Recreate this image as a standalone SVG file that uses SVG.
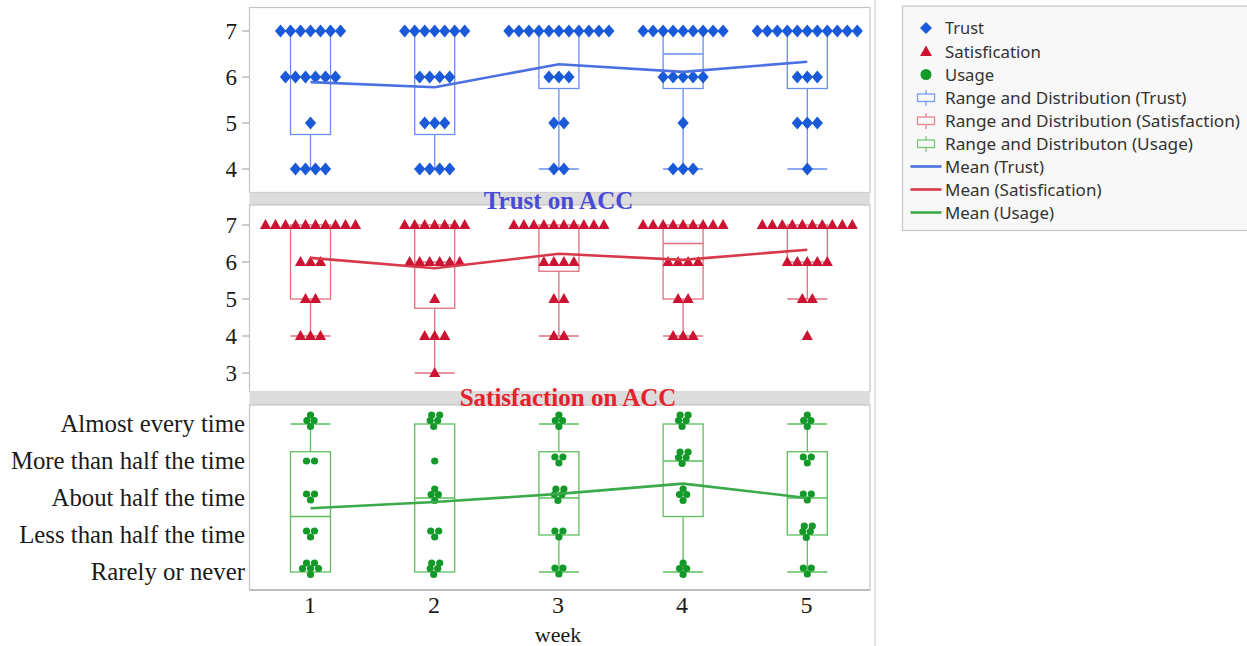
<svg xmlns="http://www.w3.org/2000/svg" xmlns:xlink="http://www.w3.org/1999/xlink" width="1247" height="646" viewBox="0 0 1247 646">
<style>
.frame{fill:#ffffff;stroke:#c4c4c4;stroke-width:1.2}
.bar{fill:#dcdcdc}
.tick{stroke:#9a9a9a;stroke-width:1}
.num{font-family:"Liberation Serif","Times New Roman",serif;font-size:23px;fill:#1a1a1a}
.cat{font-family:"Liberation Serif","Times New Roman",serif;font-size:24.8px;fill:#1a1a1a;text-anchor:end}
.title{font-family:"Liberation Serif","Times New Roman",serif;font-size:25px;font-weight:bold;text-anchor:middle}
.bt{fill:none;stroke:#6a8ef0;stroke-width:1.3}
.bs{fill:none;stroke:#e0707e;stroke-width:1.3}
.bu{fill:none;stroke:#5cbf5c;stroke-width:1.3}
.mt{fill:none;stroke:#4a70e2;stroke-width:2.6;stroke-linejoin:round}
.ms{fill:none;stroke:#d8384a;stroke-width:2.6;stroke-linejoin:round}
.mu{fill:none;stroke:#3aaa4a;stroke-width:2.6;stroke-linejoin:round}
.dia{fill:#1a5ad8}
.tri{fill:#cc1432}
.dot{fill:#15982a}
.leg{font-family:"Noto Sans","Open Sans","Liberation Sans",sans-serif;font-size:16px;fill:#333333}
</style>
<defs>
<path id="d" class="dia" d="M0,-6.5 L5.6,0 L0,6.5 L-5.6,0Z"/>
<path id="t" class="tri" d="M0,-6 L5.6,4 L-5.6,4Z"/>
<g id="p1" class="dot"><circle r="3.6"/></g>
<g id="p2" class="dot"><circle cx="-4" r="3.6"/><circle cx="4" r="3.6"/></g>
<g id="p3" class="dot"><circle cx="-4" cy="-4" r="3.6"/><circle cx="4" cy="-4" r="3.6"/><circle cx="0" cy="2" r="3.6"/></g>
<g id="p4" class="dot"><circle cx="0" cy="-9" r="3.6"/><circle cx="-3.6" cy="-3.5" r="3.6"/><circle cx="3.6" cy="-3.5" r="3.6"/><circle cx="0" cy="2.5" r="3.6"/></g>
<g id="p5" class="dot"><circle cx="-3" cy="-9" r="3.6"/><circle cx="5" cy="-9" r="3.6"/><circle cx="-4.5" cy="-3.5" r="3.6"/><circle cx="3" cy="-3.5" r="3.6"/><circle cx="-1" cy="2.5" r="3.6"/></g>
<g id="p6" class="dot"><circle cx="-4" cy="-9" r="3.6"/><circle cx="4" cy="-9" r="3.6"/><circle cx="-8" cy="-3.5" r="3.6"/><circle cx="0" cy="-3.5" r="3.6"/><circle cx="8" cy="-3.5" r="3.6"/><circle cx="0" cy="2.5" r="3.6"/></g>
</defs>
<rect x="0" y="0" width="1247" height="646" fill="#ffffff"/>
<line x1="875" y1="0" x2="875" y2="646" stroke="#cfcfcf" stroke-width="1.2"/>

<!-- ===== Trust panel ===== -->
<g id="panel-trust">
<rect class="frame" x="249.5" y="7.5" width="620.5" height="185"/>
<g class="tick"><line x1="242" y1="31" x2="249" y2="31"/><line x1="242" y1="77" x2="249" y2="77"/><line x1="242" y1="123" x2="249" y2="123"/><line x1="242" y1="169" x2="249" y2="169"/></g>
<g class="num" text-anchor="end"><text x="237" y="38.5">7</text><text x="237" y="84.5">6</text><text x="237" y="130.5">5</text><text x="237" y="176.5">4</text></g>
<g id="trust-boxes">
<rect class="bt" x="290.5" y="31" width="40" height="103.5"/><line class="bt" x1="290.5" y1="77" x2="330.5" y2="77"/><line class="bt" x1="310.5" y1="134.5" x2="310.5" y2="169"/><line class="bt" x1="290.5" y1="169" x2="330.5" y2="169"/>
<rect class="bt" x="414.7" y="31" width="40" height="103.5"/><line class="bt" x1="414.7" y1="77" x2="454.7" y2="77"/><line class="bt" x1="434.7" y1="134.5" x2="434.7" y2="169"/><line class="bt" x1="414.7" y1="169" x2="454.7" y2="169"/>
<rect class="bt" x="538.9" y="31" width="40" height="57.5"/><line class="bt" x1="558.9" y1="88.5" x2="558.9" y2="169"/><line class="bt" x1="538.9" y1="169" x2="578.9" y2="169"/>
<rect class="bt" x="663.1" y="31" width="40" height="57.5"/><line class="bt" x1="663.1" y1="54" x2="703.1" y2="54"/><line class="bt" x1="683.1" y1="88.5" x2="683.1" y2="169"/><line class="bt" x1="663.1" y1="169" x2="703.1" y2="169"/>
<rect class="bt" x="787.3" y="31" width="40" height="57.5"/><line class="bt" x1="807.3" y1="88.5" x2="807.3" y2="169"/><line class="bt" x1="787.3" y1="169" x2="827.3" y2="169"/>
</g>
<g id="trust-points">
<g transform="translate(310.5,0)">
<use href="#d" x="-30" y="31"/><use href="#d" x="-20" y="31"/><use href="#d" x="-10" y="31"/><use href="#d" x="0" y="31"/><use href="#d" x="10" y="31"/><use href="#d" x="20" y="31"/><use href="#d" x="30" y="31"/>
<use href="#d" x="-25" y="77"/><use href="#d" x="-15" y="77"/><use href="#d" x="-5" y="77"/><use href="#d" x="5" y="77"/><use href="#d" x="15" y="77"/><use href="#d" x="25" y="77"/>
<use href="#d" x="0" y="123"/>
<use href="#d" x="-15" y="169"/><use href="#d" x="-5" y="169"/><use href="#d" x="5" y="169"/><use href="#d" x="15" y="169"/>
</g>
<g transform="translate(434.7,0)">
<use href="#d" x="-30" y="31"/><use href="#d" x="-20" y="31"/><use href="#d" x="-10" y="31"/><use href="#d" x="0" y="31"/><use href="#d" x="10" y="31"/><use href="#d" x="20" y="31"/><use href="#d" x="30" y="31"/>
<use href="#d" x="-15" y="77"/><use href="#d" x="-5" y="77"/><use href="#d" x="5" y="77"/><use href="#d" x="15" y="77"/>
<use href="#d" x="-10" y="123"/><use href="#d" x="0" y="123"/><use href="#d" x="10" y="123"/>
<use href="#d" x="-15" y="169"/><use href="#d" x="-5" y="169"/><use href="#d" x="5" y="169"/><use href="#d" x="15" y="169"/>
</g>
<g transform="translate(558.9,0)">
<use href="#d" x="-50" y="31"/><use href="#d" x="-40" y="31"/><use href="#d" x="-30" y="31"/><use href="#d" x="-20" y="31"/><use href="#d" x="-10" y="31"/><use href="#d" x="0" y="31"/><use href="#d" x="10" y="31"/><use href="#d" x="20" y="31"/><use href="#d" x="30" y="31"/><use href="#d" x="40" y="31"/><use href="#d" x="50" y="31"/>
<use href="#d" x="-10" y="77"/><use href="#d" x="0" y="77"/><use href="#d" x="10" y="77"/>
<use href="#d" x="-5" y="123"/><use href="#d" x="5" y="123"/>
<use href="#d" x="-5" y="169"/><use href="#d" x="5" y="169"/>
</g>
<g transform="translate(683.1,0)">
<use href="#d" x="-40" y="31"/><use href="#d" x="-30" y="31"/><use href="#d" x="-20" y="31"/><use href="#d" x="-10" y="31"/><use href="#d" x="0" y="31"/><use href="#d" x="10" y="31"/><use href="#d" x="20" y="31"/><use href="#d" x="30" y="31"/><use href="#d" x="40" y="31"/>
<use href="#d" x="-20" y="77"/><use href="#d" x="-10" y="77"/><use href="#d" x="0" y="77"/><use href="#d" x="10" y="77"/><use href="#d" x="20" y="77"/>
<use href="#d" x="0" y="123"/>
<use href="#d" x="-10" y="169"/><use href="#d" x="0" y="169"/><use href="#d" x="10" y="169"/>
</g>
<g transform="translate(807.3,0)">
<use href="#d" x="-50" y="31"/><use href="#d" x="-40" y="31"/><use href="#d" x="-30" y="31"/><use href="#d" x="-20" y="31"/><use href="#d" x="-10" y="31"/><use href="#d" x="0" y="31"/><use href="#d" x="10" y="31"/><use href="#d" x="20" y="31"/><use href="#d" x="30" y="31"/><use href="#d" x="40" y="31"/><use href="#d" x="50" y="31"/>
<use href="#d" x="-10" y="77"/><use href="#d" x="0" y="77"/><use href="#d" x="10" y="77"/>
<use href="#d" x="-10" y="123"/><use href="#d" x="0" y="123"/><use href="#d" x="10" y="123"/>
<use href="#d" x="0" y="169"/>
</g>
</g>
</g>

<!-- ===== Satisfaction panel ===== -->
<g id="panel-satisfaction">
<rect class="bar" x="249.5" y="192.5" width="620.5" height="12.5"/>
<rect class="frame" x="249.5" y="205" width="620.5" height="187"/>
<g class="tick"><line x1="242" y1="225" x2="249" y2="225"/><line x1="242" y1="262" x2="249" y2="262"/><line x1="242" y1="299" x2="249" y2="299"/><line x1="242" y1="336" x2="249" y2="336"/><line x1="242" y1="373" x2="249" y2="373"/></g>
<g class="num" text-anchor="end"><text x="237" y="232.5">7</text><text x="237" y="269.5">6</text><text x="237" y="306.5">5</text><text x="237" y="343.5">4</text><text x="237" y="380.5">3</text></g>
<g id="sat-boxes">
<rect class="bs" x="290.5" y="225" width="40" height="74"/><line class="bs" x1="310.5" y1="299" x2="310.5" y2="336"/><line class="bs" x1="290.5" y1="336" x2="330.5" y2="336"/>
<rect class="bs" x="414.7" y="225" width="40" height="83.25"/><line class="bs" x1="414.7" y1="262" x2="454.7" y2="262"/><line class="bs" x1="434.7" y1="308.25" x2="434.7" y2="373"/><line class="bs" x1="414.7" y1="373" x2="454.7" y2="373"/>
<rect class="bs" x="538.9" y="225" width="40" height="46.25"/><line class="bs" x1="558.9" y1="271.25" x2="558.9" y2="336"/><line class="bs" x1="538.9" y1="336" x2="578.9" y2="336"/>
<rect class="bs" x="663.1" y="225" width="40" height="74"/><line class="bs" x1="663.1" y1="243.5" x2="703.1" y2="243.5"/><line class="bs" x1="683.1" y1="299" x2="683.1" y2="336"/><line class="bs" x1="663.1" y1="336" x2="703.1" y2="336"/>
<rect class="bs" x="787.3" y="225" width="40" height="37"/><line class="bs" x1="807.3" y1="262" x2="807.3" y2="299"/><line class="bs" x1="787.3" y1="299" x2="827.3" y2="299"/>
</g>
<g id="sat-points">
<g transform="translate(310.5,0)">
<use href="#t" x="-45" y="225"/><use href="#t" x="-35" y="225"/><use href="#t" x="-25" y="225"/><use href="#t" x="-15" y="225"/><use href="#t" x="-5" y="225"/><use href="#t" x="5" y="225"/><use href="#t" x="15" y="225"/><use href="#t" x="25" y="225"/><use href="#t" x="35" y="225"/><use href="#t" x="45" y="225"/>
<use href="#t" x="-10" y="262"/><use href="#t" x="0" y="262"/><use href="#t" x="10" y="262"/>
<use href="#t" x="-5" y="299"/><use href="#t" x="5" y="299"/>
<use href="#t" x="-10" y="336"/><use href="#t" x="0" y="336"/><use href="#t" x="10" y="336"/>
</g>
<g transform="translate(434.7,0)">
<use href="#t" x="-30" y="225"/><use href="#t" x="-20" y="225"/><use href="#t" x="-10" y="225"/><use href="#t" x="0" y="225"/><use href="#t" x="10" y="225"/><use href="#t" x="20" y="225"/><use href="#t" x="30" y="225"/>
<use href="#t" x="-25" y="262"/><use href="#t" x="-15" y="262"/><use href="#t" x="-5" y="262"/><use href="#t" x="5" y="262"/><use href="#t" x="15" y="262"/><use href="#t" x="25" y="262"/>
<use href="#t" x="0" y="299"/>
<use href="#t" x="-10" y="336"/><use href="#t" x="0" y="336"/><use href="#t" x="10" y="336"/>
<use href="#t" x="0" y="373"/>
</g>
<g transform="translate(558.9,0)">
<use href="#t" x="-45" y="225"/><use href="#t" x="-35" y="225"/><use href="#t" x="-25" y="225"/><use href="#t" x="-15" y="225"/><use href="#t" x="-5" y="225"/><use href="#t" x="5" y="225"/><use href="#t" x="15" y="225"/><use href="#t" x="25" y="225"/><use href="#t" x="35" y="225"/><use href="#t" x="45" y="225"/>
<use href="#t" x="-15" y="262"/><use href="#t" x="-5" y="262"/><use href="#t" x="5" y="262"/><use href="#t" x="15" y="262"/>
<use href="#t" x="-5" y="299"/><use href="#t" x="5" y="299"/>
<use href="#t" x="-5" y="336"/><use href="#t" x="5" y="336"/>
</g>
<g transform="translate(683.1,0)">
<use href="#t" x="-40" y="225"/><use href="#t" x="-30" y="225"/><use href="#t" x="-20" y="225"/><use href="#t" x="-10" y="225"/><use href="#t" x="0" y="225"/><use href="#t" x="10" y="225"/><use href="#t" x="20" y="225"/><use href="#t" x="30" y="225"/><use href="#t" x="40" y="225"/>
<use href="#t" x="-15" y="262"/><use href="#t" x="-5" y="262"/><use href="#t" x="5" y="262"/><use href="#t" x="15" y="262"/>
<use href="#t" x="-5" y="299"/><use href="#t" x="5" y="299"/>
<use href="#t" x="-10" y="336"/><use href="#t" x="0" y="336"/><use href="#t" x="10" y="336"/>
</g>
<g transform="translate(807.3,0)">
<use href="#t" x="-45" y="225"/><use href="#t" x="-35" y="225"/><use href="#t" x="-25" y="225"/><use href="#t" x="-15" y="225"/><use href="#t" x="-5" y="225"/><use href="#t" x="5" y="225"/><use href="#t" x="15" y="225"/><use href="#t" x="25" y="225"/><use href="#t" x="35" y="225"/><use href="#t" x="45" y="225"/>
<use href="#t" x="-20" y="262"/><use href="#t" x="-10" y="262"/><use href="#t" x="0" y="262"/><use href="#t" x="10" y="262"/><use href="#t" x="20" y="262"/>
<use href="#t" x="-5" y="299"/><use href="#t" x="5" y="299"/>
<use href="#t" x="0" y="336"/>
</g>
</g>
<text class="title" x="558.5" y="209" fill="#4a4ad6">Trust on ACC</text>
</g>

<!-- ===== Usage panel ===== -->
<g id="panel-usage">
<rect class="bar" x="249.5" y="392" width="620.5" height="13"/>
<rect class="frame" x="249.5" y="405" width="620.5" height="185"/>
<line x1="249.5" y1="590" x2="870" y2="590" stroke="#bdbdbd" stroke-width="2"/>
<g class="cat">
<text x="245" y="432.3">Almost every time</text>
<text x="245" y="469.3">More than half the time</text>
<text x="245" y="506.3">About half the time</text>
<text x="245" y="543.3">Less than half the time</text>
<text x="245" y="580.3">Rarely or never</text>
</g>
<g id="usage-boxes">
<rect class="bu" x="290.5" y="451.75" width="40" height="120.25"/><line class="bu" x1="290.5" y1="516.5" x2="330.5" y2="516.5"/><line class="bu" x1="310.5" y1="451.75" x2="310.5" y2="424"/><line class="bu" x1="290.5" y1="424" x2="330.5" y2="424"/>
<rect class="bu" x="414.7" y="424" width="40" height="148"/><line class="bu" x1="414.7" y1="498" x2="454.7" y2="498"/>
<rect class="bu" x="538.9" y="451.75" width="40" height="83.25"/><line class="bu" x1="538.9" y1="498" x2="578.9" y2="498"/><line class="bu" x1="558.9" y1="451.75" x2="558.9" y2="424"/><line class="bu" x1="538.9" y1="424" x2="578.9" y2="424"/><line class="bu" x1="558.9" y1="535" x2="558.9" y2="572"/><line class="bu" x1="538.9" y1="572" x2="578.9" y2="572"/>
<rect class="bu" x="663.1" y="424" width="40" height="92.5"/><line class="bu" x1="663.1" y1="461" x2="703.1" y2="461"/><line class="bu" x1="683.1" y1="516.5" x2="683.1" y2="572"/><line class="bu" x1="663.1" y1="572" x2="703.1" y2="572"/>
<rect class="bu" x="787.3" y="451.75" width="40" height="83.25"/><line class="bu" x1="787.3" y1="498" x2="827.3" y2="498"/><line class="bu" x1="807.3" y1="451.75" x2="807.3" y2="424"/><line class="bu" x1="787.3" y1="424" x2="827.3" y2="424"/><line class="bu" x1="807.3" y1="535" x2="807.3" y2="572"/><line class="bu" x1="787.3" y1="572" x2="827.3" y2="572"/>
</g>
<g id="usage-points">
<use href="#p4" x="310.5" y="424"/><use href="#p2" x="310.5" y="461"/><use href="#p3" x="310.5" y="498"/><use href="#p3" x="310.5" y="535"/><use href="#p6" x="310.5" y="572"/>
<use href="#p5" x="434.7" y="424"/><use href="#p1" x="434.7" y="461"/><use href="#p4" x="434.7" y="498"/><use href="#p3" x="434.7" y="535"/><use href="#p5" x="434.7" y="572"/>
<use href="#p4" x="558.9" y="424"/><use href="#p3" x="558.9" y="461"/><use href="#p5" x="558.9" y="498"/><use href="#p3" x="558.9" y="535"/><use href="#p3" x="558.9" y="572"/>
<use href="#p5" x="683.1" y="424"/><use href="#p5" x="683.1" y="461"/><use href="#p4" x="683.1" y="498"/><use href="#p4" x="683.1" y="572"/>
<use href="#p4" x="807.3" y="424"/><use href="#p3" x="807.3" y="461"/><use href="#p3" x="807.3" y="498"/><use href="#p5" x="807.3" y="535"/><use href="#p3" x="807.3" y="572"/>
</g>
<text class="title" x="568" y="406" fill="#e8202c">Satisfaction on ACC</text>
<g class="num" text-anchor="middle" style="font-size:24px">
<text x="310" y="613">1</text><text x="434" y="613">2</text><text x="558" y="613">3</text><text x="682" y="613">4</text><text x="806.5" y="613">5</text>
</g>
<text class="num" x="558" y="642" text-anchor="middle" style="font-size:22px">week</text>
</g>

<!-- ===== Mean lines ===== -->
<g id="connectors">
<polyline class="mt" points="310.5,82.1 434.7,87.2 558.9,64.2 683.1,71.9 807.3,61.7"/>
<polyline class="ms" points="310.5,257.9 434.7,268.2 558.9,253.8 683.1,259.9 807.3,249.7"/>
<polyline class="mu" points="310.5,508.3 434.7,502 558.9,493.9 683.1,483.6 807.3,498"/>
</g>

<!-- ===== Legend ===== -->
<g id="legend">
<rect x="902.5" y="6" width="350" height="224.5" fill="#f8f8f8" stroke="#c6c6c6" stroke-width="1.2"/>
<path class="dia" d="M926,22 L932,28 L926,34 L920,28Z"/>
<path class="tri" d="M926,45.5 L932,56 L920,56Z"/>
<circle class="dot" cx="926" cy="74.5" r="5.5"/>
<g fill="none" stroke="#7a9cf2" stroke-width="1.3"><line x1="926" y1="90" x2="926" y2="94"/><rect x="917.5" y="94" width="17" height="7.5"/><line x1="926" y1="101.5" x2="926" y2="106"/></g>
<g fill="none" stroke="#e8848e" stroke-width="1.3"><line x1="926" y1="113" x2="926" y2="117"/><rect x="917.5" y="117" width="17" height="7.5"/><line x1="926" y1="124.5" x2="926" y2="129"/></g>
<g fill="none" stroke="#74c874" stroke-width="1.3"><line x1="926" y1="136" x2="926" y2="140"/><rect x="917.5" y="140" width="17" height="7.5"/><line x1="926" y1="147.5" x2="926" y2="152"/></g>
<line class="mt" x1="910.5" y1="166.5" x2="941.5" y2="166.5"/>
<line class="ms" x1="910.5" y1="189.5" x2="941.5" y2="189.5"/>
<line class="mu" x1="910.5" y1="212.5" x2="941.5" y2="212.5"/>
<text class="leg" x="945" y="34.3" textLength="39" lengthAdjust="spacingAndGlyphs">Trust</text>
<text class="leg" x="945" y="57.5" textLength="96" lengthAdjust="spacingAndGlyphs">Satisfication</text>
<text class="leg" x="945" y="80.5" textLength="49" lengthAdjust="spacingAndGlyphs">Usage</text>
<text class="leg" x="945" y="103.5" textLength="241.5" lengthAdjust="spacingAndGlyphs">Range and Distribution (Trust)</text>
<text class="leg" x="945" y="126.5" textLength="295" lengthAdjust="spacingAndGlyphs">Range and Distribution (Satisfaction)</text>
<text class="leg" x="945" y="149.5" textLength="248" lengthAdjust="spacingAndGlyphs">Range and Distributon (Usage)</text>
<text class="leg" x="945" y="172.5" textLength="99" lengthAdjust="spacingAndGlyphs">Mean (Trust)</text>
<text class="leg" x="945" y="195.5" textLength="156.5" lengthAdjust="spacingAndGlyphs">Mean (Satisfication)</text>
<text class="leg" x="945" y="218.5" textLength="109" lengthAdjust="spacingAndGlyphs">Mean (Usage)</text>
</g>
</svg>
